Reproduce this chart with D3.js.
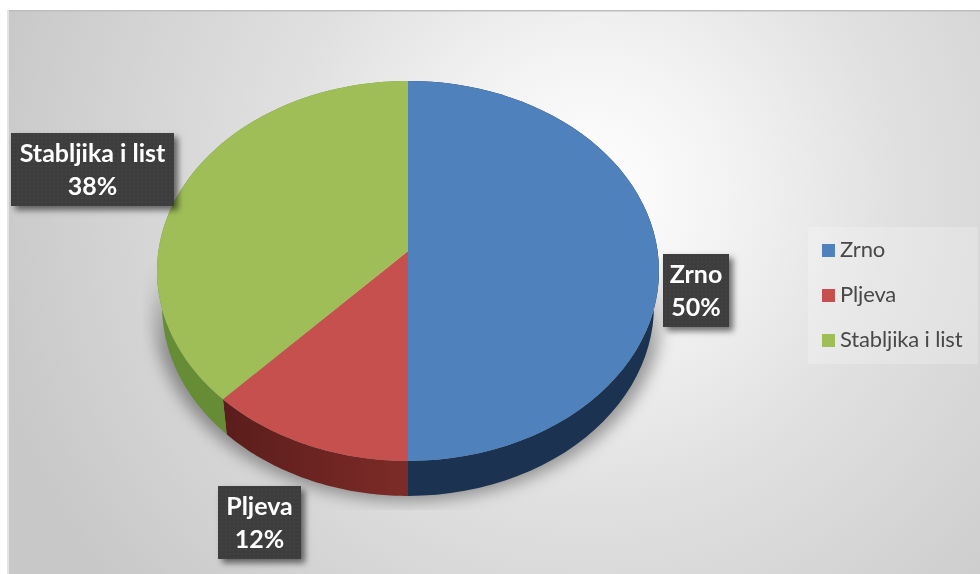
<!DOCTYPE html>
<html><head><meta charset="utf-8">
<script src="https://cdn.jsdelivr.net/npm/d3@7"></script>
<style>html,body{margin:0;padding:0;background:#fff;overflow:hidden}svg{display:block}text{font-family:Lato,"Open Sans",sans-serif}</style>
</head><body><svg id="c" width="980" height="574"></svg>
<script>
const categories = ["Zrno","Pljeva","Stabljika i list"];
const values = [50,12,38];
const labelText = ["50%","12%","38%"];
const topColors = ["#4f81bd","#c6504d","#9fbe57"];
const sideDark = ["#1b3350","#5a1d1b","#739c3e"];
const sideLight = ["#1e3a5f","#7d2b28","#668c35"];

const W=980,H=574;
const svg=d3.select("#c");
const defs=svg.append("defs");

const bg=defs.append("radialGradient").attr("id","bg").attr("gradientUnits","userSpaceOnUse")
  .attr("cx",590).attr("cy",190).attr("r",620);
[[0,"#ffffff"],[0.22,"#f3f3f3"],[0.5,"#e0e0e0"],[1,"#c8c8c8"]].forEach(s=>bg.append("stop").attr("offset",s[0]).attr("stop-color",s[1]));
defs.append("filter").attr("id","blur").attr("x","-20%").attr("y","-20%").attr("width","140%").attr("height","140%")
  .append("feGaussianBlur").attr("stdDeviation",8);
const shadeFill=defs.append("linearGradient").attr("id","shade").attr("gradientUnits","userSpaceOnUse")
  .attr("x1",0).attr("x2",0).attr("y1",262).attr("y2",350);
shadeFill.append("stop").attr("offset",0).attr("stop-color","#000").attr("stop-opacity",0);
shadeFill.append("stop").attr("offset",1).attr("stop-color","#000").attr("stop-opacity",0.36);
const soft=defs.append("filter").attr("id","soft").attr("x","-30%").attr("y","-30%").attr("width","170%").attr("height","170%");
soft.append("feDropShadow").attr("dx",4).attr("dy",4).attr("stdDeviation",3).attr("flood-color","#000").attr("flood-opacity",0.55);
defs.append("filter").attr("id","tb").append("feGaussianBlur").attr("stdDeviation",0.35);
const pat=defs.append("pattern").attr("id","dots").attr("width",4).attr("height",4).attr("patternUnits","userSpaceOnUse");
pat.append("rect").attr("width",4).attr("height",4).attr("fill","#3c3c3c");
pat.append("circle").attr("cx",2).attr("cy",2).attr("r",0.8).attr("fill","#4a4a4a");
defs.append("clipPath").attr("id","shClip").append("rect").attr("x",143).attr("y",262).attr("width",550).attr("height",248);

// panel
svg.append("rect").attr("x",7).attr("y",10).attr("width",W-7).attr("height",H-10).attr("fill","url(#bg)");
svg.append("rect").attr("x",7).attr("y",10).attr("width",W-7).attr("height",1.5).attr("fill","#bdbdbd");
svg.append("rect").attr("x",7).attr("y",10).attr("width",2).attr("height",H-10).attr("fill","#e4e4e4");

// perspective pie geometry
const cx=408, cy=251, a=249.6, b=187.9, k=0.105, depth=35, shrink=0.98;
const project=(t,low)=>{
  const u=Math.sin(t), v=Math.cos(t), w=1+k*v;
  const X=a*u/w, Y=b*(-v)/w;
  return low?[cx+X*shrink, cy+Y+depth]:[cx+X, cy+Y];
};
const arcs=d3.pie().sort(null).value(d=>d)(values);
const samples=(s,e)=>d3.range(0,61).map(i=>s+(e-s)*i/60);
const line=d3.line();

// cast shadow
const full=samples(0,2*Math.PI);
svg.append("g").attr("clip-path","url(#shClip)").append("path")
  .attr("d",line(full.map(t=>{const p=project(t,true);return [p[0]+(p[0]-cx)*0.035,p[1]+5];}))+"Z")
  .attr("fill","url(#shade)").attr("filter","url(#blur)");

// side walls
const walls=svg.append("g");
arcs.forEach((d,i)=>{
  const id="side"+i;
  const g=defs.append("linearGradient").attr("id",id).attr("gradientUnits","userSpaceOnUse")
    .attr("x1",project(d.startAngle)[0]).attr("x2",project(d.endAngle)[0]).attr("y1",0).attr("y2",0);
  g.append("stop").attr("offset",0).attr("stop-color",sideLight[i]);
  g.append("stop").attr("offset",1).attr("stop-color",sideDark[i]);
  const ts=samples(d.startAngle,d.endAngle);
  const pts=ts.map(t=>project(t,false)).concat(ts.slice().reverse().map(t=>project(t,true)));
  walls.append("path").attr("d",line(pts)+"Z").attr("fill","url(#"+id+")");
});

// top face
const faces=svg.append("g");
arcs.forEach((d,i)=>{
  const pts=[[cx,cy]].concat(samples(d.startAngle,d.endAngle).map(t=>project(t,false)));
  faces.append("path").attr("d",line(pts)+"Z").attr("fill",topColors[i]);
});

// data labels
const boxes=[[663,254,66,73],[218,486,83,73],[11,133,163,73]];
const lg=svg.append("g");
categories.forEach((c,i)=>{
  const [x,y,w,h]=boxes[i];
  lg.append("rect").attr("x",x).attr("y",y).attr("width",w).attr("height",h).attr("fill","url(#dots)").attr("filter","url(#soft)");
  const t=lg.append("text").attr("text-anchor","middle").attr("fill","#fff").attr("font-weight",700).attr("font-size",25).attr("filter","url(#tb)");
  t.append("tspan").attr("x",x+w/2).attr("y",y+29).text(c);
  t.append("tspan").attr("x",x+w/2).attr("y",y+62).text(labelText[i]);
});

// legend
svg.append("rect").attr("x",808).attr("y",227).attr("width",170).attr("height",137).attr("fill","#fff").attr("opacity",0.22);
const ly=d3.scalePoint().domain(categories).range([251,341]);
const legend=svg.append("g");
categories.forEach((c,i)=>{
  legend.append("rect").attr("x",822).attr("y",ly(c)-7).attr("width",13).attr("height",13).attr("fill",topColors[i]);
  legend.append("text").attr("x",840).attr("y",ly(c)+6).attr("font-size",22).attr("letter-spacing",-0.15).attr("fill","#484848").attr("filter","url(#tb)").text(c);
});
</script></body></html>
